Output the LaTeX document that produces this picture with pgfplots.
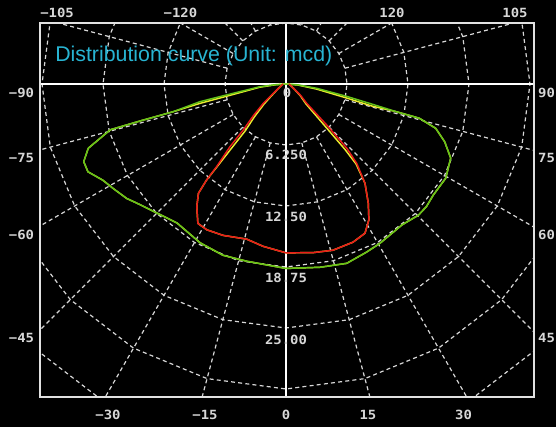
\documentclass[border=0pt]{standalone}
\usepackage{fontspec}
\setmainfont{Liberation Sans}
\newfontfamily\tickfont[FakeStretch=1.1]{DejaVu Sans Mono}
\usepackage{pgfplots}
\usepackage{pgfplotstable}
\pgfplotsset{compat=1.18}

\definecolor{gridc}{RGB}{215,215,215}
\definecolor{framec}{RGB}{225,225,225}
\definecolor{labc}{RGB}{215,215,215}
\definecolor{titlec}{RGB}{40,180,210}
\definecolor{cred}{RGB}{235,25,25}
\definecolor{cgreen}{RGB}{100,195,25}
\definecolor{cyellow}{RGB}{235,235,45}

% intensity (mcd) against angle gamma (0 = straight down)
\pgfplotstableread{
g I
-90 0.3
-75 0.45
-60 0.9
-52 2.0
-49.6 3.05
-46 4.6
-42.9 6.43
-41.8 8.6
-40 11.05
-39.6 12.75
-38.7 14.35
-36 15.55
-32.3 16.9
-28.5 17.0
-22.6 16.8
-14.2 16.4
-8 16.8
0 17.3
9.1 17.5
15.8 17.7
23 17.6
27.9 17.3
31.4 16.3
34.6 14.85
38.5 13.0
41.7 10.9
43.4 9.06
44.8 5.9
47 2.9
52 1.9
60 0.9
75 0.45
90 0.3
}\redc

\pgfplotstableread{
g I
-90 0.3
-75 0.45
-60 0.9
-50.5 2.0
-47.5 3.05
-44 4.6
-41 6.43
-40.3 8.6
-39.8 11.05
-39.6 12.75
-38.7 14.35
-36 15.55
-32.3 16.9
-28.5 17.0
-22.6 16.8
-14.2 16.4
-8 16.8
0 17.3
9.1 17.5
15.8 17.7
23 17.6
27.9 17.3
31.4 16.3
34.6 14.85
38.5 13.0
41.2 10.9
42.0 9.06
42.8 5.9
45 2.9
50.5 1.9
60 0.9
75 0.45
90 0.3
}\yellowa

\pgfplotstableread{
g I
-90 0
-86 1.2
-84 2.7
-80 5.5
-78.4 9.0
-76.2 11.9
-75.8 15.2
-75.4 18.6
-72 21.3
-69 22.2
-66.1 22.2
-62.3 21.2
-58.9 20.7
-54.3 20.1
-50.4 19.4
-45 18.7
-38.1 18.1
-28.4 18.5
-20.2 18.7
-12.5 18.6
0 18.9
10.5 19.1
18.7 19.4
25.7 19.1
30.5 18.95
39.4 18.7
45.3 19.1
48.9 19.1
53 18.9
59.5 19.0
65.8 18.5
70 17.3
73.5 16.0
75.6 14.1
75.9 11.6
76.8 9.1
78.5 6.3
82 3.2
86 1.2
90 0
}\greenc

\pgfplotstableread{
g I
-90 0
-86 1.0
-83 2.7
-78.8 5.5
-77.3 9.0
-76.2 11.9
-75.8 15.2
-75.4 18.6
-72 21.3
-69 22.2
-66.1 22.2
-62.3 21.2
-58.9 20.7
-54.3 20.1
-50.4 19.4
-45 18.7
-38.1 18.1
-28.4 18.5
-20.2 18.7
-12.5 18.6
0 18.9
10.5 19.1
18.7 19.4
25.7 19.1
30.5 18.95
39.4 18.7
45.3 19.1
48.9 19.1
53 18.9
59.5 19.0
65.8 18.5
70 17.3
73.5 16.0
75.6 14.1
75.9 11.6
75.6 9.1
77.0 6.3
80.5 3.2
85 1.2
90 0
}\yellowb

% grid: ring corners every 15 degrees, radial lines start at the first ring
\pgfplotstableread{
g k
-180 0
-165 0
-150 0
-135 0
-120 0
-105 0
-90 0
-75 0
-60 0
-45 0
-30 0
-15 0
0 0
15 0
30 0
45 0
60 0
75 0
90 0
105 0
120 0
135 0
150 0
165 0
180 0
}\angles

\pgfplotstableread{
r k
6.25 0
45 0
}\radii

\tikzset{labfont/.style={font=\tickfont\bfseries\fontsize{9.5}{11}\selectfont}}
\pgfplotsset{
  gridline/.style={gridc, line width=0.9pt, dash pattern=on 3pt off 2.4pt},
  curve/.style={line width=1.1pt, line join=round},
  base/.style={
    scale only axis, width=370.5pt, height=280.5pt,
    xmin=-25.205, xmax=25.41, ymin=-32.07, ymax=6.25,
    at={(0,0)}, anchor=south west,
    major tick length=0pt,
    axis line style={framec, line width=1pt},
    tick label style={labfont, text=labc},
  },
}

\begin{document}
\begin{tikzpicture}
\fill[black] (-30pt,-22.5pt) rectangle (387pt,297.75pt);

\begin{axis}[base,
    xtick={-18.24,-8.30,0,8.40,18.19},
    xticklabels={−30,−15,0,15,30},
    ytick={-26.06,-15.47,-7.58,-0.95},
    yticklabels={−45,−60,−75,−90},
    xticklabel style={anchor=center, yshift=-13.5pt},
    yticklabel style={anchor=center, xshift=-13.9pt},
  ]
  \pgfplotsinvokeforeach{6.25,12.5,18.75,25,31.25,37.5}{
    \addplot[gridline] table[x expr={#1*sin(\thisrow{g})}, y expr={-#1*cos(\thisrow{g})}] {\angles};
  }
  \pgfplotsinvokeforeach{-165,-150,-135,-120,-105,-75,-60,-45,-30,-15,15,30,45,60,75,105,120,135,150,165}{
    \addplot[gridline] table[x expr={\thisrow{r}*sin(#1)}, y expr={-\thisrow{r}*cos(#1)}] {\radii};
  }
  \addplot[white, line width=0.8pt] coordinates {(-30,0) (30,0)};
  \addplot[white, line width=0.8pt] coordinates {(0,-40) (0,10)};

  \addplot[cyellow, curve] table[x expr={\thisrow{I}*sin(\thisrow{g})}, y expr={-\thisrow{I}*cos(\thisrow{g})}] {\yellowb};
  \addplot[cyellow, curve] table[x expr={\thisrow{I}*sin(\thisrow{g})}, y expr={-\thisrow{I}*cos(\thisrow{g})}] {\yellowa};
  \addplot[cgreen, curve] table[x expr={\thisrow{I}*sin(\thisrow{g})}, y expr={-\thisrow{I}*cos(\thisrow{g})}] {\greenc};
  \addplot[cred, curve] table[x expr={\thisrow{I}*sin(\thisrow{g})}, y expr={-\thisrow{I}*cos(\thisrow{g})}] {\redc};

  \node[anchor=base west, inner sep=0pt, text=titlec, font=\fontsize{16}{19}\selectfont]
    at (axis cs:-23.67,2.31) {Distribution curve (Unit: mcd)};
  \begin{scope}[every node/.style={anchor=center, inner sep=0pt, text=labc, labfont}]
    \node at (axis cs:0.1,-0.92) {0};
    \node at (axis cs:0,-7.27) {6.250};
    \node at (axis cs:0,-13.63) {12.50};
    \node at (axis cs:0,-19.88) {18.75};
    \node at (axis cs:0,-26.23) {25.00};
  \end{scope}
\end{axis}

\begin{axis}[base,
    xticklabel pos=upper, yticklabel pos=upper,
    xtick={-23.46,-10.81,10.86,23.46},
    xticklabels={−105,−120,120,105},
    ytick={-26.06,-15.47,-7.58,-0.95},
    yticklabels={45,60,75,90},
    xticklabel style={anchor=center, yshift=7.5pt},
    yticklabel style={anchor=center, xshift=9.4pt},
  ]
\end{axis}

\pgfresetboundingbox
\useasboundingbox (-30pt,-22.5pt) rectangle (387pt,297.75pt);
\end{tikzpicture}
\end{document}
